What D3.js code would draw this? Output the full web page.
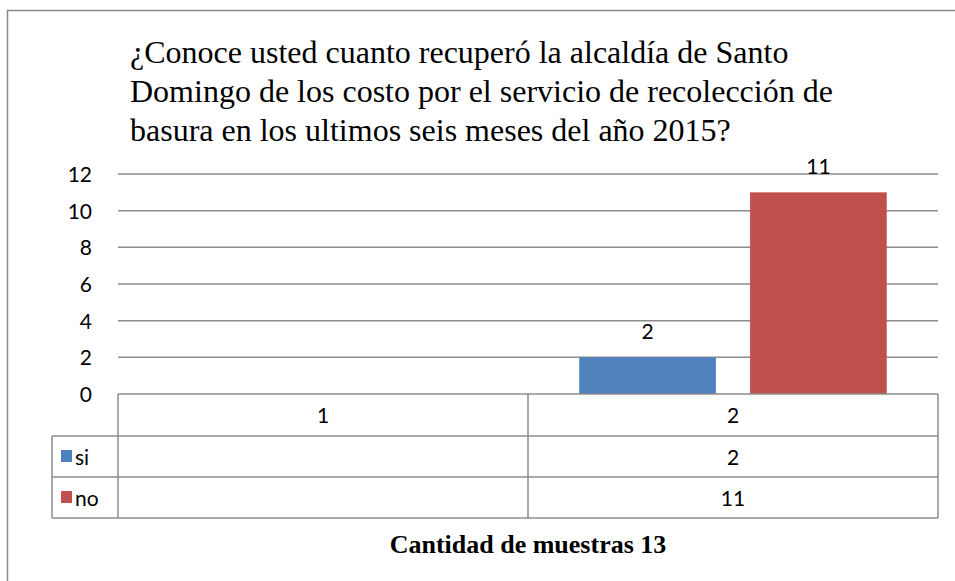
<!DOCTYPE html>
<html>
<head>
<meta charset="utf-8">
<script src="https://cdn.jsdelivr.net/npm/d3@7"></script>
<style>
  body { margin: 0; background: #fff; }
  svg { display: block; }
  .sans { font-family: Lato, "Open Sans", sans-serif; font-size: 21px; fill: #000; }
  .serif { font-family: "Liberation Serif", "Times New Roman", serif; fill: #000; }
</style>
</head>
<body>
<div id="chart"></div>
<script>
// data
var categories = ["1", "2"];
var seriesNames = ["si", "no"];
var siValues = [null, 2];
var noValues = [null, 11];
var yTicks = [0, 2, 4, 6, 8, 10, 12];
var titleLines = [
    "¿Conoce usted cuanto recuperó la alcaldía de Santo",
    "Domingo de los costo por el servicio de recolección de",
    "basura en los ultimos seis meses del año 2015?"
];
var axisTitle = "Cantidad de muestras 13";

var colors = { si: "#4F81BD", no: "#C0504D" };
var gridColor = "#8c8c8c";

var width = 955, height = 581;
var plotLeft = 118, plotRight = 938, plotTop = 174, plotBottom = 394;
var rowH = [42, 41, 41];

var svg = d3.select("#chart").append("svg")
    .attr("width", width)
    .attr("height", height);

// outer frame
svg.append("rect")
    .attr("x", 7.5).attr("y", 10.5)
    .attr("width", 960).attr("height", 600)
    .attr("fill", "none")
    .attr("stroke", "#8a8a8a")
    .attr("stroke-width", 1.5);

// title
svg.append("g").selectAll("text")
    .data(titleLines)
    .enter().append("text")
    .attr("class", "serif")
    .style("font-size", "32px")
    .attr("x", 130)
    .attr("y", function(d, i) { return 63 + i * 39; })
    .text(function(d) { return d; });

var xScale = d3.scaleBand().domain(categories).range([plotLeft, plotRight]);
var yScale = d3.scaleLinear().domain([0, 12]).range([plotBottom, plotTop]);
var xInner = d3.scaleBand().domain(seriesNames)
    .range([0, xScale.bandwidth()])
    .paddingInner(0.2).paddingOuter(0.3);

// gridlines
svg.append("g").selectAll("line")
    .data(yTicks.filter(function(d) { return d > 0; }))
    .enter().append("line")
    .attr("x1", plotLeft).attr("x2", plotRight)
    .attr("y1", function(d) { return yScale(d); })
    .attr("y2", function(d) { return yScale(d); })
    .attr("stroke", gridColor)
    .attr("stroke-width", 1.5);

// y axis labels
var yAxis = d3.axisLeft(yScale).tickValues(yTicks).tickSize(0).tickPadding(0);
svg.append("g")
    .attr("transform", "translate(92,0)")
    .call(yAxis)
    .call(function(g) { g.select(".domain").remove(); })
    .selectAll("text")
    .attr("class", "sans")
    .attr("dy", "0.36em");

// bars
var barData = [];
categories.forEach(function(c, i) {
    if (siValues[i] != null) barData.push({ cat: c, s: "si", v: siValues[i] });
    if (noValues[i] != null) barData.push({ cat: c, s: "no", v: noValues[i] });
});

var bars = svg.append("g").selectAll("g")
    .data(barData)
    .enter().append("g")
    .attr("transform", function(d) { return "translate(" + (xScale(d.cat) + xInner(d.s)) + ",0)"; });

bars.append("rect")
    .attr("x", 0)
    .attr("y", function(d) { return yScale(d.v); })
    .attr("width", xInner.bandwidth())
    .attr("height", function(d) { return plotBottom - yScale(d.v); })
    .attr("fill", function(d) { return colors[d.s]; });

bars.append("text")
    .attr("class", "sans")
    .attr("x", xInner.bandwidth() / 2)
    .attr("y", function(d) { return yScale(d.v) - 18; })
    .attr("text-anchor", "middle")
    .text(function(d) { return d.v; });

// data table
var tableLeft = 52;
var y0 = plotBottom, y1 = y0 + rowH[0], y2 = y1 + rowH[1], y3 = y2 + rowH[2];
var table = svg.append("g")
    .attr("stroke", gridColor)
    .attr("stroke-width", 1.5);

var hLines = [
    { x1: plotLeft, y: y0 },
    { x1: tableLeft, y: y1 },
    { x1: tableLeft, y: y2 },
    { x1: tableLeft, y: y3 }
];
table.selectAll("line.h")
    .data(hLines)
    .enter().append("line")
    .attr("x1", function(d) { return d.x1; })
    .attr("x2", plotRight)
    .attr("y1", function(d) { return d.y; })
    .attr("y2", function(d) { return d.y; });

var vLines = [
    { x: tableLeft, top: y1 },
    { x: plotLeft, top: y0 },
    { x: xScale("2"), top: y0 },
    { x: plotRight, top: y0 }
];
table.selectAll("line.v")
    .data(vLines)
    .enter().append("line")
    .attr("x1", function(d) { return d.x; })
    .attr("x2", function(d) { return d.x; })
    .attr("y1", function(d) { return d.top; })
    .attr("y2", y3);

var cellText = svg.append("g")
    .attr("text-anchor", "middle");

// header row
cellText.selectAll("text.hdr")
    .data(categories)
    .enter().append("text")
    .attr("class", "sans")
    .attr("x", function(d) { return xScale(d) + xScale.bandwidth() / 2; })
    .attr("y", y0 + 29)
    .text(function(d) { return d; });

// value rows
var rows = [
    { name: "si", vals: siValues, top: y1 },
    { name: "no", vals: noValues, top: y2 }
];
rows.forEach(function(r) {
    cellText.selectAll(null)
        .data(categories.map(function(c, i) { return { c: c, v: r.vals[i] }; })
            .filter(function(d) { return d.v != null; }))
        .enter().append("text")
        .attr("class", "sans")
        .attr("x", function(d) { return xScale(d.c) + xScale.bandwidth() / 2; })
        .attr("y", r.top + 29)
        .text(function(d) { return d.v; });

    svg.append("rect")
        .attr("x", 61).attr("y", r.top + 14)
        .attr("width", 11).attr("height", 12)
        .attr("fill", colors[r.name]);

    svg.append("text")
        .attr("class", "sans")
        .attr("x", 75).attr("y", r.top + 29)
        .text(r.name);
});

// axis title
svg.append("text")
    .attr("class", "serif")
    .style("font-size", "26px")
    .style("font-weight", "bold")
    .attr("x", xScale("2"))
    .attr("y", 553)
    .attr("text-anchor", "middle")
    .text(axisTitle);
</script>
</body>
</html>
